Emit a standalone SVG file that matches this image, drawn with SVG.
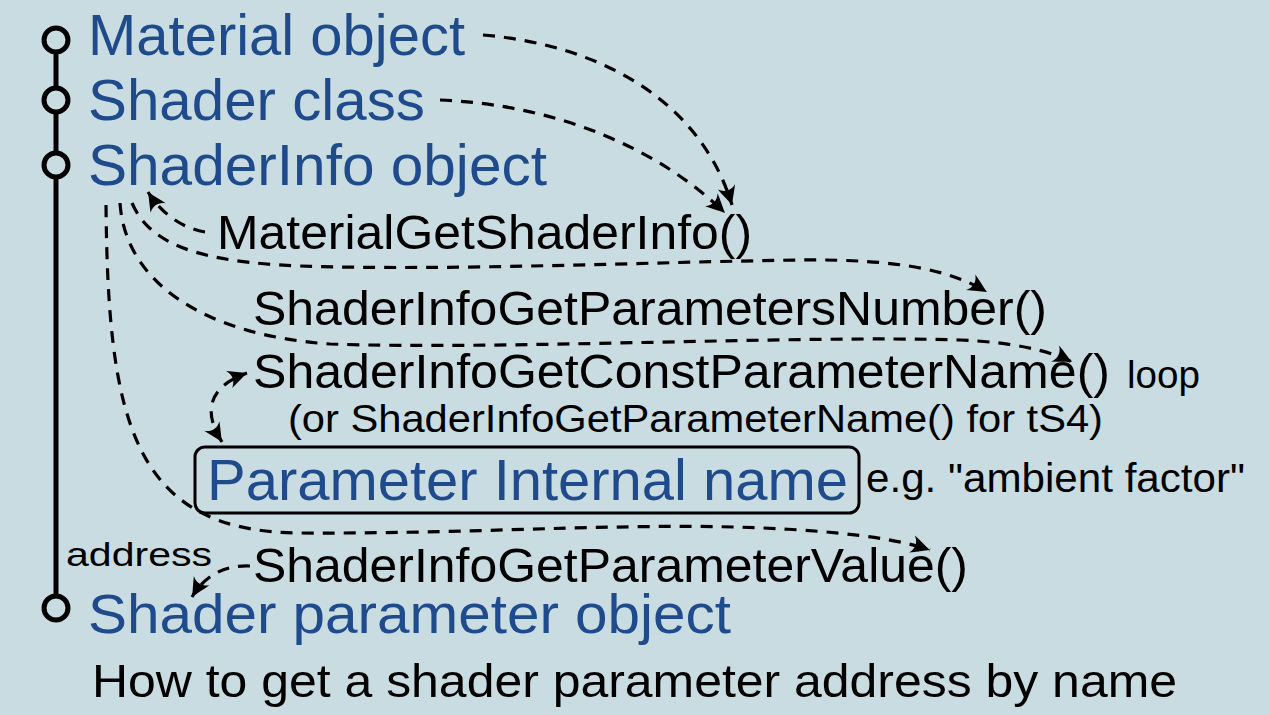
<svg xmlns="http://www.w3.org/2000/svg" width="1270" height="715" viewBox="0 0 1270 715">
<style>
.bg{fill:#c9dce1}
.blue{font-family:"Liberation Sans",Arial,sans-serif;font-size:57px;fill:#1f4b8c}
.blk{font-family:"Liberation Sans",Arial,sans-serif;font-size:49px;fill:#000}
.sm{font-family:"Liberation Sans",Arial,sans-serif;font-size:38px;fill:#000}
.dash{fill:none;stroke:#000;stroke-width:3.2;stroke-dasharray:12 9}
.ring{fill:#c9dce1;stroke:#000;stroke-width:5}
</style>
<defs>
<marker id="ah" viewBox="-20 -11 22 22" refX="0" refY="0" markerWidth="22" markerHeight="22" markerUnits="userSpaceOnUse" orient="auto-start-reverse">
<path d="M0,0 C-6,-2.5 -12,-6 -19,-9 C-14,-3.5 -14,3.5 -19,9 C-12,6 -6,2.5 0,0 Z" fill="#000"/>
</marker>
</defs>
<rect class="bg" x="0" y="0" width="1270" height="715"/>

<g id="timeline">
<line x1="56" y1="40" x2="56" y2="608" stroke="#000" stroke-width="5"/>
<circle class="ring" cx="56" cy="40" r="12"/>
<circle class="ring" cx="56" cy="100" r="12"/>
<circle class="ring" cx="56" cy="165" r="12"/>
<circle class="ring" cx="56" cy="608" r="12"/>
</g>

<g id="material-object"><text class="blue" x="88" y="55" textLength="377" lengthAdjust="spacingAndGlyphs">Material object</text></g>
<g id="shader-class"><text class="blue" x="88" y="120" textLength="337" lengthAdjust="spacingAndGlyphs">Shader class</text></g>
<g id="shaderinfo-object"><text class="blue" x="88" y="185" textLength="459" lengthAdjust="spacingAndGlyphs">ShaderInfo object</text></g>
<g id="get-shaderinfo"><text class="blk" x="217" y="249" textLength="535" lengthAdjust="spacingAndGlyphs">MaterialGetShaderInfo()</text></g>
<g id="get-params-number"><text class="blk" x="253" y="325" textLength="794" lengthAdjust="spacingAndGlyphs">ShaderInfoGetParametersNumber()</text></g>
<g id="get-const-param-name">
<text class="blk" x="253" y="388" textLength="857" lengthAdjust="spacingAndGlyphs">ShaderInfoGetConstParameterName()</text>
<text class="sm" x="1127" y="388" textLength="73" lengthAdjust="spacingAndGlyphs">loop</text>
<text class="sm" x="288" y="432" textLength="815" lengthAdjust="spacingAndGlyphs">(or ShaderInfoGetParameterName() for tS4)</text>
</g>
<g id="param-internal-name">
<rect x="195" y="447" width="664" height="66" rx="10" fill="none" stroke="#000" stroke-width="3"/>
<text class="blue" x="207" y="500" textLength="641" lengthAdjust="spacingAndGlyphs">Parameter Internal name</text>
<text class="sm" x="866" y="492" style="font-size:40px" textLength="379" lengthAdjust="spacingAndGlyphs">e.g. "ambient factor"</text>
</g>
<g id="get-param-value"><text class="blk" x="253" y="582" textLength="715" lengthAdjust="spacingAndGlyphs">ShaderInfoGetParameterValue()</text></g>
<g id="address-label"><text class="sm" x="66" y="566" style="font-size:33px" textLength="146" lengthAdjust="spacingAndGlyphs">address</text></g>
<g id="shader-param-object"><text class="blue" x="88" y="633" style="font-size:55px" textLength="643" lengthAdjust="spacingAndGlyphs">Shader parameter object</text></g>
<g id="caption"><text class="blk" x="92" y="697" style="font-size:47px" textLength="1085" lengthAdjust="spacingAndGlyphs">How to get a shader parameter address by name</text></g>

<g id="connectors">
<path class="dash" d="M483,35 C600,45 700,100 732,205" marker-end="url(#ah)"/>
<path class="dash" d="M440,100 C560,105 660,150 725,213" marker-end="url(#ah)"/>
<path class="dash" d="M205,232 C182,228 162,214 148,192" marker-end="url(#ah)"/>
<path class="dash" d="M132,203 C150,245 200,262 300,266 C450,271 650,262 800,260 C900,259 950,270 987,292" marker-end="url(#ah)"/>
<path class="dash" d="M120,203 C125,280 200,335 330,344 C500,350 800,335 960,340 C1010,342 1048,350 1072,362" marker-end="url(#ah)"/>
<path class="dash" d="M106,205 C108,420 132,532 300,533 C500,534 650,520 800,530 C860,534 900,540 930,550" marker-end="url(#ah)"/>
<path class="dash" d="M222,442 C208,420 200,390 247,373" marker-start="url(#ah)" marker-end="url(#ah)"/>
<path class="dash" d="M250,566 C225,565 205,575 192,597" marker-end="url(#ah)"/>
</g>
</svg>
